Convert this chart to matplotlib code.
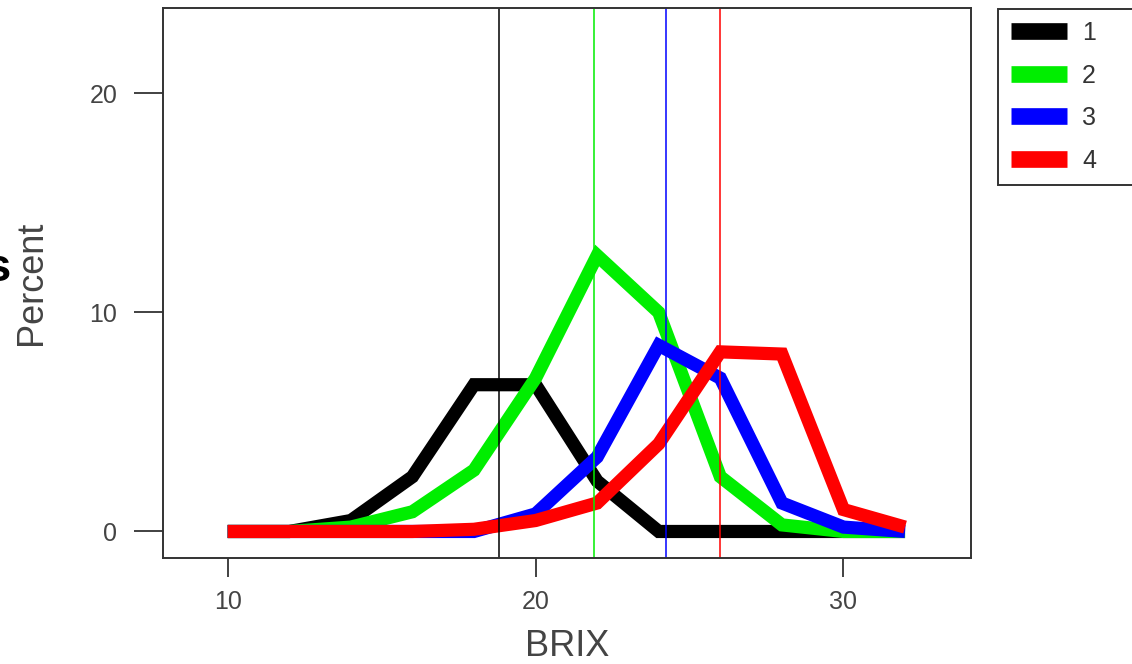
import matplotlib.pyplot as plt

plt.rcParams['font.family'] = ['Liberation Sans', 'DejaVu Sans']

# Histogram-style percent curves by BRIX class
brix = [10, 12, 14, 16, 18, 20, 22, 24, 26, 28, 30, 32]
pct_1 = [0, 0, 0.5, 2.5, 6.7, 6.7, 2.3, 0, 0, 0, 0, 0]
pct_2 = [0, 0, 0.2, 0.9, 2.8, 7.0, 12.6, 10.0, 2.5, 0.3, 0, 0]
pct_3 = [0, 0, 0, 0, 0, 0.8, 3.4, 8.5, 7.0, 1.3, 0.2, 0]
pct_4 = [0, 0, 0, 0, 0.1, 0.5, 1.3, 4.0, 8.2, 8.1, 1.0, 0.2]
series_labels = ['1', '2', '3', '4']
means = [18.8, 21.9, 24.25, 26.0]
colors = ['#000000', '#00ee00', '#0000ff', '#ff0000']

fig = plt.figure(figsize=(11.32, 6.64), dpi=100)
ax = fig.add_axes([0.144, 0.160, 0.714, 0.828])

for vals, lab, c in zip([pct_1, pct_2, pct_3, pct_4], series_labels, colors):
    ax.plot(brix, vals, color=c, lw=9.5, label=lab,
            solid_joinstyle='miter', solid_capstyle='butt')

for m, c in zip(means, colors):
    ax.axvline(m, color=c, lw=1.1)

ax.set_xlim(7.9, 34.15)
ax.set_ylim(-1.2, 23.9)
ax.set_xticks([10, 20, 30])
ax.set_yticks([0, 10, 20])
ax.tick_params(direction='out', width=1.3, colors='#333333',
               labelcolor='#444444', labelsize=18)
ax.tick_params(axis='y', length=21, pad=12)
ax.tick_params(axis='x', length=14, pad=9)
for sp in ax.spines.values():
    sp.set_linewidth(1.4)
    sp.set_color('#333333')

ax.set_xlabel('BRIX', fontsize=26, color='#444444', labelpad=11)
ax.set_ylabel('Percent', fontsize=26, color='#444444', labelpad=29)

# stray clipped letter at the left edge of the source image
fig.text(-0.014, 0.595, 's', fontsize=34, fontweight='bold', ha='left', va='center')

# legend box runs past the right edge, as in the source image
leg = ax.legend(loc='upper left', bbox_to_anchor=(0.882, 0.5, 0.2, 0.487),
                bbox_transform=fig.transFigure, mode='expand', borderaxespad=0,
                fontsize=18, handlelength=2.25, handletextpad=0.6,
                labelspacing=0.74, borderpad=0.5,
                fancybox=False, framealpha=1, edgecolor='#333333')
leg.get_frame().set_linewidth(1.4)
for h in leg.get_lines():
    h.set_linewidth(12)
for t in leg.get_texts():
    t.set_color('#333333')

fig.savefig('out.png', dpi=100)
